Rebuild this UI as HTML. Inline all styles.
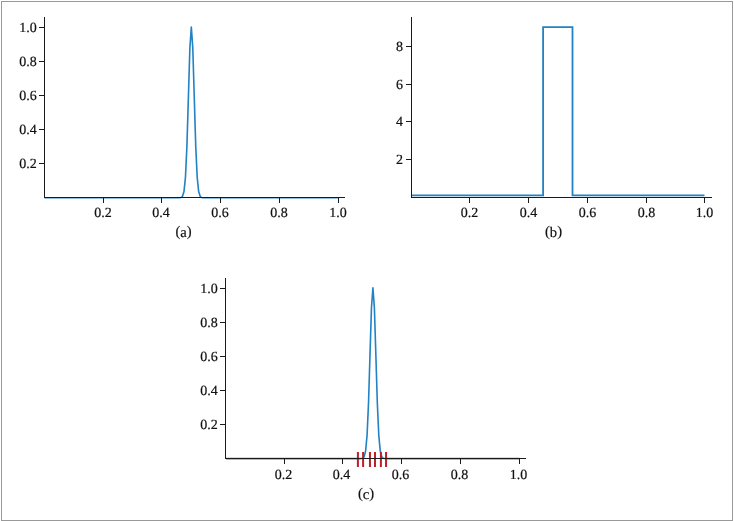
<!DOCTYPE html>
<html><head><meta charset="utf-8"><style>
html,body{margin:0;padding:0;background:#fff;}
svg{display:block;will-change:transform;}
text{font-family:"Liberation Serif", serif;fill:#111;stroke:#111;stroke-width:0.2px;text-rendering:geometricPrecision;}
</style></head><body>
<svg width="734" height="521" viewBox="0 0 734 521">
<rect width="734" height="521" fill="#fff"/>
<rect x="1.5" y="1.5" width="731" height="519" fill="none" stroke="#999" stroke-width="1"/>
<path d="M44.45,197.75 L45.92,197.75 L47.39,197.75 L48.86,197.75 L50.33,197.75 L51.79,197.75 L53.26,197.75 L54.73,197.75 L56.20,197.75 L57.67,197.75 L59.14,197.75 L60.61,197.75 L62.08,197.75 L63.54,197.75 L65.01,197.75 L66.48,197.75 L67.95,197.75 L69.42,197.75 L70.89,197.75 L72.36,197.75 L73.83,197.75 L75.29,197.75 L76.76,197.75 L78.23,197.75 L79.70,197.75 L81.17,197.75 L82.64,197.75 L84.11,197.75 L85.58,197.75 L87.04,197.75 L88.51,197.75 L89.98,197.75 L91.45,197.75 L92.92,197.75 L94.39,197.75 L95.86,197.75 L97.33,197.75 L98.79,197.75 L100.26,197.75 L101.73,197.75 L103.20,197.75 L104.67,197.75 L106.14,197.75 L107.61,197.75 L109.08,197.75 L110.54,197.75 L112.01,197.75 L113.48,197.75 L114.95,197.75 L116.42,197.75 L117.89,197.75 L119.36,197.75 L120.83,197.75 L122.29,197.75 L123.76,197.75 L125.23,197.75 L126.70,197.75 L128.17,197.75 L129.64,197.75 L131.11,197.75 L132.57,197.75 L134.04,197.75 L135.51,197.75 L136.98,197.75 L138.45,197.75 L139.92,197.75 L141.39,197.75 L142.86,197.75 L144.33,197.75 L145.79,197.75 L147.26,197.75 L148.73,197.75 L150.20,197.75 L151.67,197.75 L153.14,197.75 L154.61,197.75 L156.07,197.75 L157.54,197.75 L159.01,197.75 L160.48,197.75 L161.95,197.75 L163.42,197.75 L164.89,197.75 L166.36,197.75 L167.82,197.75 L169.29,197.75 L170.76,197.75 L172.23,197.75 L173.70,197.75 L175.17,197.75 L176.64,197.75 L178.11,197.75 L179.57,197.72 L181.04,197.50 L182.51,196.32 L183.98,191.58 L185.45,177.36 L186.92,146.08 L188.39,97.36 L189.86,48.20 L191.32,26.95 L192.79,48.20 L194.26,97.36 L195.73,146.08 L197.20,177.36 L198.67,191.58 L200.14,196.32 L201.61,197.50 L203.07,197.72 L204.54,197.75 L206.01,197.75 L207.48,197.75 L208.95,197.75 L210.42,197.75 L211.89,197.75 L213.36,197.75 L214.82,197.75 L216.29,197.75 L217.76,197.75 L219.23,197.75 L220.70,197.75 L222.17,197.75 L223.64,197.75 L225.11,197.75 L226.57,197.75 L228.04,197.75 L229.51,197.75 L230.98,197.75 L232.45,197.75 L233.92,197.75 L235.39,197.75 L236.86,197.75 L238.32,197.75 L239.79,197.75 L241.26,197.75 L242.73,197.75 L244.20,197.75 L245.67,197.75 L247.14,197.75 L248.61,197.75 L250.07,197.75 L251.54,197.75 L253.01,197.75 L254.48,197.75 L255.95,197.75 L257.42,197.75 L258.89,197.75 L260.36,197.75 L261.82,197.75 L263.29,197.75 L264.76,197.75 L266.23,197.75 L267.70,197.75 L269.17,197.75 L270.64,197.75 L272.11,197.75 L273.57,197.75 L275.04,197.75 L276.51,197.75 L277.98,197.75 L279.45,197.75 L280.92,197.75 L282.39,197.75 L283.86,197.75 L285.32,197.75 L286.79,197.75 L288.26,197.75 L289.73,197.75 L291.20,197.75 L292.67,197.75 L294.14,197.75 L295.61,197.75 L297.07,197.75 L298.54,197.75 L300.01,197.75 L301.48,197.75 L302.95,197.75 L304.42,197.75 L305.89,197.75 L307.36,197.75 L308.82,197.75 L310.29,197.75 L311.76,197.75 L313.23,197.75 L314.70,197.75 L316.17,197.75 L317.64,197.75 L319.11,197.75 L320.57,197.75 L322.04,197.75 L323.51,197.75 L324.98,197.75 L326.45,197.75 L327.92,197.75 L329.39,197.75 L330.86,197.75 L332.32,197.75 L333.79,197.75 L335.26,197.75 L336.73,197.75 L338.20,197.75" fill="none" stroke="#2182c4" stroke-width="1.6" stroke-linejoin="round"/>
<line x1="44.5" y1="17" x2="44.5" y2="198.0" stroke="#1a1a1a" stroke-width="1"/>
<line x1="44.0" y1="197.5" x2="345" y2="197.5" stroke="#1a1a1a" stroke-width="1"/>
<line x1="39" y1="27.5" x2="44.5" y2="27.5" stroke="#1a1a1a" stroke-width="1"/>
<text x="36.8" y="32.3" text-anchor="end" font-size="14">1.0</text>
<line x1="39" y1="61.5" x2="44.5" y2="61.5" stroke="#1a1a1a" stroke-width="1"/>
<text x="36.8" y="66.3" text-anchor="end" font-size="14">0.8</text>
<line x1="39" y1="95.5" x2="44.5" y2="95.5" stroke="#1a1a1a" stroke-width="1"/>
<text x="36.8" y="100.3" text-anchor="end" font-size="14">0.6</text>
<line x1="39" y1="129.5" x2="44.5" y2="129.5" stroke="#1a1a1a" stroke-width="1"/>
<text x="36.8" y="134.3" text-anchor="end" font-size="14">0.4</text>
<line x1="39" y1="163.5" x2="44.5" y2="163.5" stroke="#1a1a1a" stroke-width="1"/>
<text x="36.8" y="168.3" text-anchor="end" font-size="14">0.2</text>
<line x1="103.5" y1="197.5" x2="103.5" y2="203" stroke="#1a1a1a" stroke-width="1"/>
<text x="102.9" y="216.8" text-anchor="middle" font-size="14">0.2</text>
<line x1="161.5" y1="197.5" x2="161.5" y2="203" stroke="#1a1a1a" stroke-width="1"/>
<text x="160.9" y="216.8" text-anchor="middle" font-size="14">0.4</text>
<line x1="220.5" y1="197.5" x2="220.5" y2="203" stroke="#1a1a1a" stroke-width="1"/>
<text x="219.9" y="216.8" text-anchor="middle" font-size="14">0.6</text>
<line x1="279.5" y1="197.5" x2="279.5" y2="203" stroke="#1a1a1a" stroke-width="1"/>
<text x="278.9" y="216.8" text-anchor="middle" font-size="14">0.8</text>
<line x1="338.5" y1="197.5" x2="338.5" y2="203" stroke="#1a1a1a" stroke-width="1"/>
<text x="337.9" y="216.8" text-anchor="middle" font-size="14">1.0</text>
<text x="183.5" y="236.9" text-anchor="middle" font-size="14.6"><tspan dy="-0.9">(</tspan><tspan dy="0.9">a</tspan><tspan dy="-0.9">)</tspan></text>
<path d="M411.5,195.4 L543.1,195.4 L543.1,27.2 L572.5,27.2 L572.5,195.4 L704.5,195.4" fill="none" stroke="#2182c4" stroke-width="1.8" stroke-linejoin="miter"/>
<line x1="411.5" y1="17" x2="411.5" y2="198.0" stroke="#1a1a1a" stroke-width="1"/>
<line x1="411.0" y1="197.5" x2="712" y2="197.5" stroke="#1a1a1a" stroke-width="1"/>
<line x1="406" y1="46.5" x2="411.5" y2="46.5" stroke="#1a1a1a" stroke-width="1"/>
<text x="402.9" y="51.3" text-anchor="end" font-size="14">8</text>
<line x1="406" y1="84.5" x2="411.5" y2="84.5" stroke="#1a1a1a" stroke-width="1"/>
<text x="402.9" y="89.3" text-anchor="end" font-size="14">6</text>
<line x1="406" y1="121.5" x2="411.5" y2="121.5" stroke="#1a1a1a" stroke-width="1"/>
<text x="402.9" y="126.3" text-anchor="end" font-size="14">4</text>
<line x1="406" y1="159.5" x2="411.5" y2="159.5" stroke="#1a1a1a" stroke-width="1"/>
<text x="402.9" y="164.3" text-anchor="end" font-size="14">2</text>
<line x1="469.5" y1="197.5" x2="469.5" y2="203" stroke="#1a1a1a" stroke-width="1"/>
<text x="469.5" y="216.8" text-anchor="middle" font-size="14">0.2</text>
<line x1="528.5" y1="197.5" x2="528.5" y2="203" stroke="#1a1a1a" stroke-width="1"/>
<text x="528.5" y="216.8" text-anchor="middle" font-size="14">0.4</text>
<line x1="587.5" y1="197.5" x2="587.5" y2="203" stroke="#1a1a1a" stroke-width="1"/>
<text x="587.5" y="216.8" text-anchor="middle" font-size="14">0.6</text>
<line x1="646.5" y1="197.5" x2="646.5" y2="203" stroke="#1a1a1a" stroke-width="1"/>
<text x="646.5" y="216.8" text-anchor="middle" font-size="14">0.8</text>
<line x1="704.5" y1="197.5" x2="704.5" y2="203" stroke="#1a1a1a" stroke-width="1"/>
<text x="704.5" y="216.8" text-anchor="middle" font-size="14">1.0</text>
<text x="553.5" y="236.9" text-anchor="middle" font-size="14.6"><tspan dy="-0.9">(</tspan><tspan dy="0.9">b</tspan><tspan dy="-0.9">)</tspan></text>
<path d="M226.05,458.60 L227.52,458.60 L228.99,458.60 L230.46,458.60 L231.92,458.60 L233.39,458.60 L234.86,458.60 L236.33,458.60 L237.80,458.60 L239.27,458.60 L240.74,458.60 L242.21,458.60 L243.67,458.60 L245.14,458.60 L246.61,458.60 L248.08,458.60 L249.55,458.60 L251.02,458.60 L252.49,458.60 L253.96,458.60 L255.42,458.60 L256.89,458.60 L258.36,458.60 L259.83,458.60 L261.30,458.60 L262.77,458.60 L264.24,458.60 L265.71,458.60 L267.18,458.60 L268.64,458.60 L270.11,458.60 L271.58,458.60 L273.05,458.60 L274.52,458.60 L275.99,458.60 L277.46,458.60 L278.92,458.60 L280.39,458.60 L281.86,458.60 L283.33,458.60 L284.80,458.60 L286.27,458.60 L287.74,458.60 L289.21,458.60 L290.67,458.60 L292.14,458.60 L293.61,458.60 L295.08,458.60 L296.55,458.60 L298.02,458.60 L299.49,458.60 L300.96,458.60 L302.42,458.60 L303.89,458.60 L305.36,458.60 L306.83,458.60 L308.30,458.60 L309.77,458.60 L311.24,458.60 L312.71,458.60 L314.17,458.60 L315.64,458.60 L317.11,458.60 L318.58,458.60 L320.05,458.60 L321.52,458.60 L322.99,458.60 L324.46,458.60 L325.93,458.60 L327.39,458.60 L328.86,458.60 L330.33,458.60 L331.80,458.60 L333.27,458.60 L334.74,458.60 L336.21,458.60 L337.67,458.60 L339.14,458.60 L340.61,458.60 L342.08,458.60 L343.55,458.60 L345.02,458.60 L346.49,458.60 L347.96,458.60 L349.42,458.60 L350.89,458.60 L352.36,458.60 L353.83,458.60 L355.30,458.60 L356.77,458.60 L358.24,458.60 L359.71,458.59 L361.17,458.54 L362.64,458.23 L364.11,456.70 L365.58,451.10 L367.05,435.48 L368.52,403.15 L369.99,355.00 L371.46,307.87 L372.92,287.80 L374.39,307.87 L375.86,355.00 L377.33,403.15 L378.80,435.48 L380.27,451.10 L381.74,456.70 L383.21,458.23 L384.67,458.54 L386.14,458.59 L387.61,458.60 L389.08,458.60 L390.55,458.60 L392.02,458.60 L393.49,458.60 L394.96,458.60 L396.42,458.60 L397.89,458.60 L399.36,458.60 L400.83,458.60 L402.30,458.60 L403.77,458.60 L405.24,458.60 L406.71,458.60 L408.17,458.60 L409.64,458.60 L411.11,458.60 L412.58,458.60 L414.05,458.60 L415.52,458.60 L416.99,458.60 L418.46,458.60 L419.92,458.60 L421.39,458.60 L422.86,458.60 L424.33,458.60 L425.80,458.60 L427.27,458.60 L428.74,458.60 L430.21,458.60 L431.67,458.60 L433.14,458.60 L434.61,458.60 L436.08,458.60 L437.55,458.60 L439.02,458.60 L440.49,458.60 L441.96,458.60 L443.42,458.60 L444.89,458.60 L446.36,458.60 L447.83,458.60 L449.30,458.60 L450.77,458.60 L452.24,458.60 L453.71,458.60 L455.17,458.60 L456.64,458.60 L458.11,458.60 L459.58,458.60 L461.05,458.60 L462.52,458.60 L463.99,458.60 L465.46,458.60 L466.92,458.60 L468.39,458.60 L469.86,458.60 L471.33,458.60 L472.80,458.60 L474.27,458.60 L475.74,458.60 L477.21,458.60 L478.67,458.60 L480.14,458.60 L481.61,458.60 L483.08,458.60 L484.55,458.60 L486.02,458.60 L487.49,458.60 L488.96,458.60 L490.42,458.60 L491.89,458.60 L493.36,458.60 L494.83,458.60 L496.30,458.60 L497.77,458.60 L499.24,458.60 L500.71,458.60 L502.17,458.60 L503.64,458.60 L505.11,458.60 L506.58,458.60 L508.05,458.60 L509.52,458.60 L510.99,458.60 L512.46,458.60 L513.92,458.60 L515.39,458.60 L516.86,458.60 L518.33,458.60 L519.80,458.60" fill="none" stroke="#2182c4" stroke-width="1.6" stroke-linejoin="round"/>
<line x1="357.9" y1="452" x2="357.9" y2="467" stroke="#bf1d27" stroke-width="2"/>
<line x1="363.1" y1="452" x2="363.1" y2="467" stroke="#bf1d27" stroke-width="2"/>
<line x1="369.95" y1="452" x2="369.95" y2="467" stroke="#bf1d27" stroke-width="2"/>
<line x1="374.98" y1="452" x2="374.98" y2="467" stroke="#bf1d27" stroke-width="2"/>
<line x1="380.9" y1="452" x2="380.9" y2="467" stroke="#bf1d27" stroke-width="2"/>
<line x1="386.06" y1="452" x2="386.06" y2="467" stroke="#bf1d27" stroke-width="2"/>
<line x1="225.5" y1="278" x2="225.5" y2="459.0" stroke="#1a1a1a" stroke-width="1"/>
<line x1="225.0" y1="458.5" x2="526" y2="458.5" stroke="#1a1a1a" stroke-width="1"/>
<line x1="220" y1="288.5" x2="225.5" y2="288.5" stroke="#1a1a1a" stroke-width="1"/>
<text x="217.8" y="293.3" text-anchor="end" font-size="14">1.0</text>
<line x1="220" y1="322.5" x2="225.5" y2="322.5" stroke="#1a1a1a" stroke-width="1"/>
<text x="217.8" y="327.3" text-anchor="end" font-size="14">0.8</text>
<line x1="220" y1="356.5" x2="225.5" y2="356.5" stroke="#1a1a1a" stroke-width="1"/>
<text x="217.8" y="361.3" text-anchor="end" font-size="14">0.6</text>
<line x1="220" y1="390.5" x2="225.5" y2="390.5" stroke="#1a1a1a" stroke-width="1"/>
<text x="217.8" y="395.3" text-anchor="end" font-size="14">0.4</text>
<line x1="220" y1="424.5" x2="225.5" y2="424.5" stroke="#1a1a1a" stroke-width="1"/>
<text x="217.8" y="429.3" text-anchor="end" font-size="14">0.2</text>
<line x1="284.5" y1="458.5" x2="284.5" y2="464" stroke="#1a1a1a" stroke-width="1"/>
<text x="283.5" y="478.6" text-anchor="middle" font-size="14">0.2</text>
<line x1="342.5" y1="458.5" x2="342.5" y2="464" stroke="#1a1a1a" stroke-width="1"/>
<text x="341.5" y="478.6" text-anchor="middle" font-size="14">0.4</text>
<line x1="401.5" y1="458.5" x2="401.5" y2="464" stroke="#1a1a1a" stroke-width="1"/>
<text x="400.5" y="478.6" text-anchor="middle" font-size="14">0.6</text>
<line x1="460.5" y1="458.5" x2="460.5" y2="464" stroke="#1a1a1a" stroke-width="1"/>
<text x="459.5" y="478.6" text-anchor="middle" font-size="14">0.8</text>
<line x1="519.5" y1="458.5" x2="519.5" y2="464" stroke="#1a1a1a" stroke-width="1"/>
<text x="518.5" y="478.6" text-anchor="middle" font-size="14">1.0</text>
<text x="366.0" y="498.9" text-anchor="middle" font-size="14.6"><tspan dy="-0.9">(</tspan><tspan dy="0.9">c</tspan><tspan dy="-0.9">)</tspan></text>
</svg>
</body></html>
